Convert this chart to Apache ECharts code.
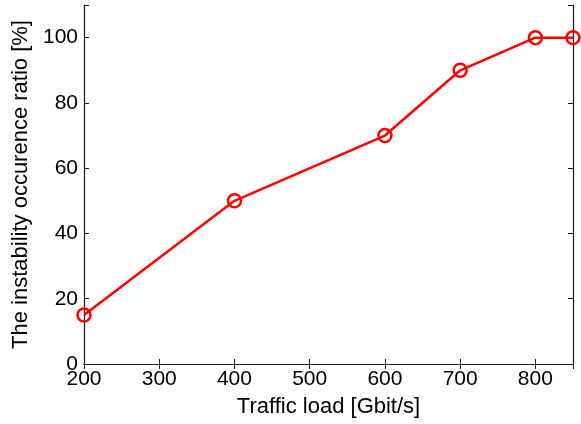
<!DOCTYPE html>
<html>
<head>
<meta charset="utf-8">
<script src="https://cdn.jsdelivr.net/npm/echarts@6/dist/echarts.min.js"></script>
<style>
html,body{margin:0;padding:0;background:#fff;}
#chart{width:581px;height:424px;}
</style>
</head>
<body>
<div id="chart"></div>
<script>
const trafficLoad = [200, 400, 600, 700, 800, 850];
const instabilityRatio = [15, 50, 70, 90, 100, 100];
const xTicks = [200, 300, 400, 500, 600, 700, 800];
const yTicks = [0, 20, 40, 60, 80, 100];

const FONT = 'Liberation Sans, Arial, sans-serif';
const chart = echarts.init(document.getElementById('chart'));
const axisLine = {show: true, lineStyle: {color: '#1a1a1a', width: 1.2}};
const tick = {show: true, inside: true, length: 5, lineStyle: {color: '#1a1a1a', width: 1}};
chart.setOption({
  animation: false,
  backgroundColor: '#fff',
  grid: {left: 84, right: 8, top: 5, bottom: 60, containLabel: false},
  xAxis: [{
    type: 'value', min: 200, max: 850, interval: 100, position: 'bottom',
    axisLine: axisLine, axisTick: tick, splitLine: {show: false},
    axisLabel: {color: '#000', fontFamily: FONT, fontSize: 21, margin: 5,
      formatter: v => xTicks.includes(v) ? String(v) : ''},
    name: 'Traffic load [Gbit/s]', nameLocation: 'middle', nameGap: 32,
    nameTextStyle: {color: '#000', fontFamily: FONT, fontSize: 22}
  }, {
    type: 'value', min: 200, max: 850, interval: 100, position: 'top',
    axisLine: axisLine, axisTick: tick, splitLine: {show: false},
    axisLabel: {show: false}
  }],
  yAxis: [{
    type: 'value', min: 0, max: 110, interval: 20, position: 'left',
    axisLine: axisLine, axisTick: tick, splitLine: {show: false},
    axisLabel: {color: '#000', fontFamily: FONT, fontSize: 21, margin: 6,
      formatter: v => yTicks.includes(v) ? String(v) : ''},
    name: 'The instability occurence ratio [%]', nameLocation: 'middle', nameGap: 48,
    nameTextStyle: {color: '#000', fontFamily: FONT, fontSize: 22}
  }, {
    type: 'value', min: 0, max: 110, interval: 20, position: 'right',
    axisLine: axisLine, axisTick: tick, splitLine: {show: false},
    axisLabel: {show: false}
  }],
  series: [{
    type: 'line',
    data: trafficLoad.map((x, i) => [x, instabilityRatio[i]]),
    xAxisIndex: 0, yAxisIndex: 0,
    symbol: 'circle', symbolSize: 13, showAllSymbol: true,
    lineStyle: {color: '#ff0000', width: 2.5},
    itemStyle: {color: 'rgba(0,0,0,0)', borderColor: '#ff0000', borderWidth: 2.5},
    clip: false
  }]
});
</script>
</body>
</html>
